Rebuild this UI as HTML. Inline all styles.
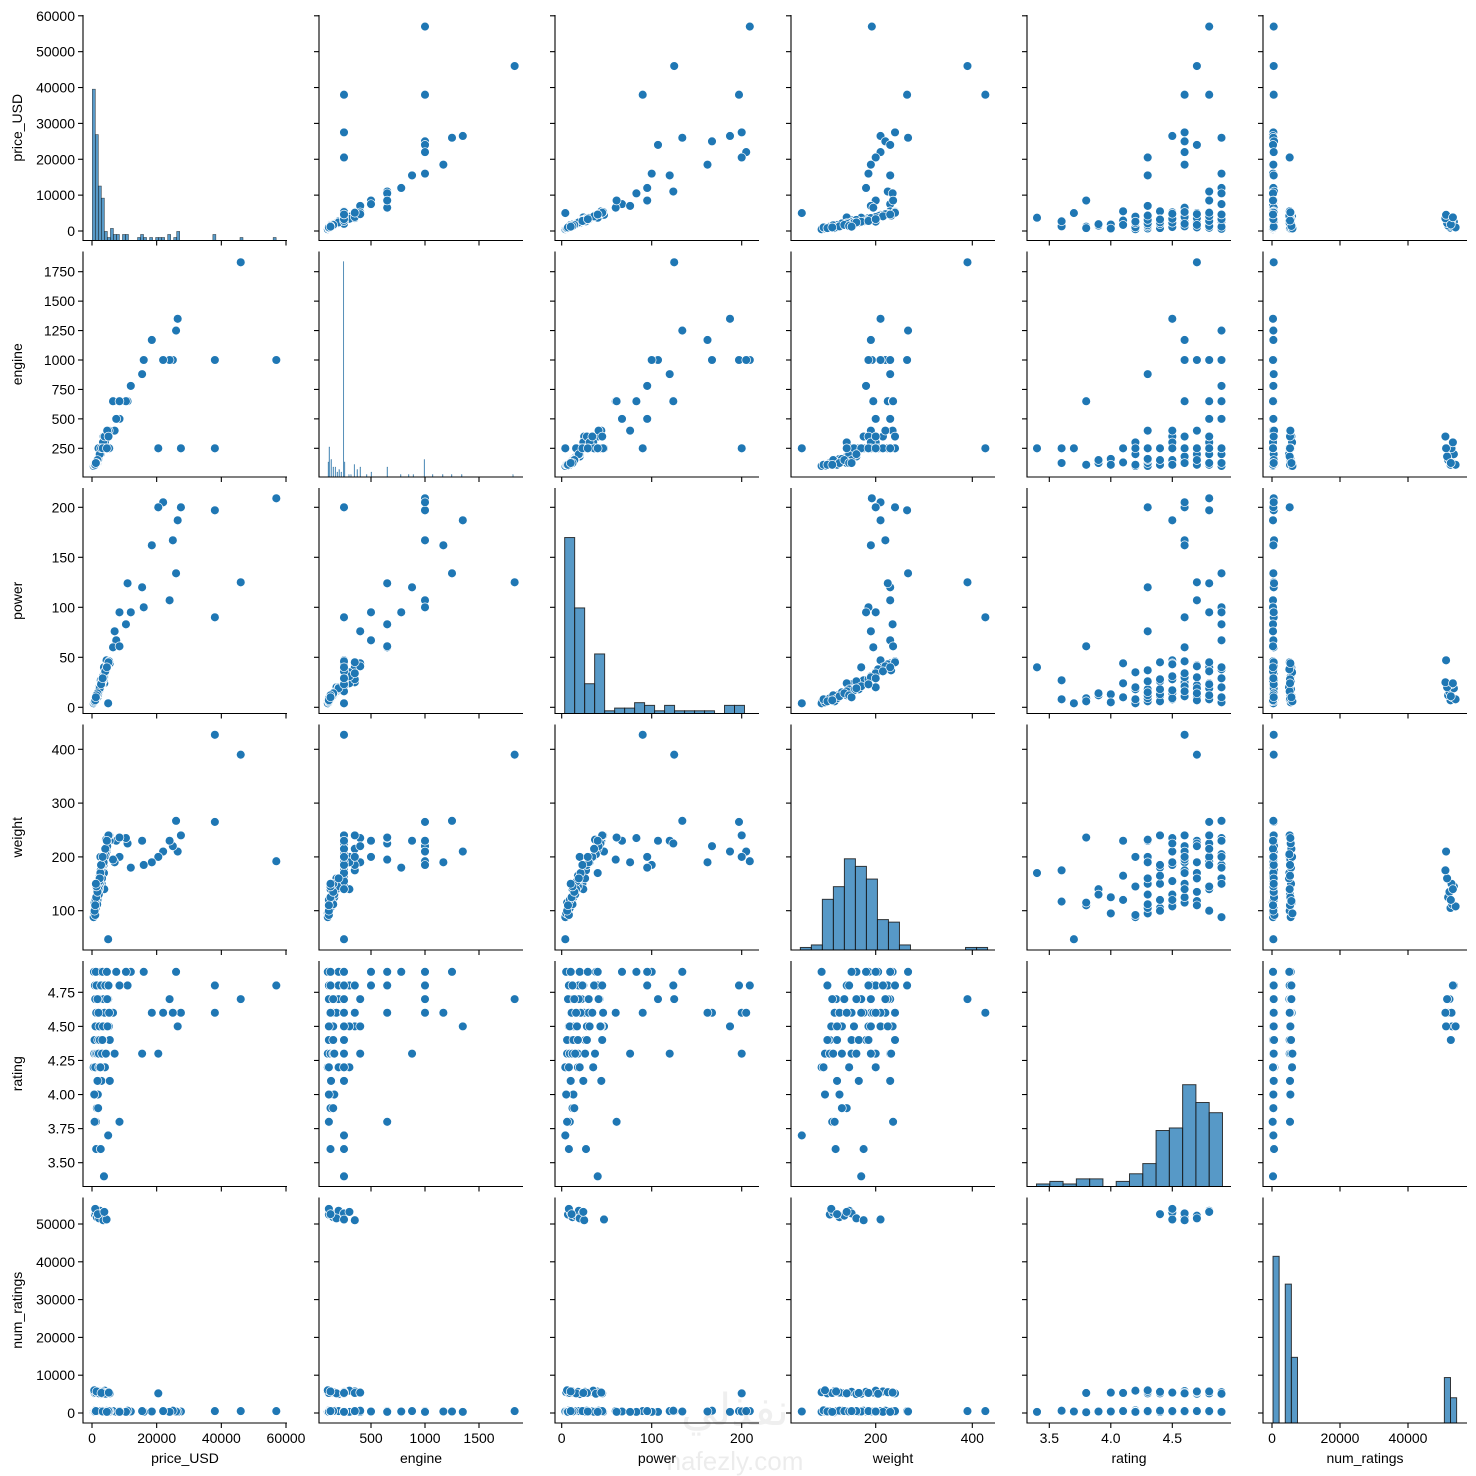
<!DOCTYPE html>
<html><head><meta charset="utf-8"><style>
html,body{margin:0;padding:0;background:#fff;}
svg{display:block;font-family:"Liberation Sans","DejaVu Sans",sans-serif;}
</style></head><body>
<svg id="chart" width="1476" height="1476" viewBox="0 0 1476 1476" xmlns="http://www.w3.org/2000/svg">
<rect width="1476" height="1476" fill="#fff"/>
<g id="plot"></g>
<text x="735" y="1425" font-size="44" fill="#000" opacity="0.06" text-anchor="middle" font-family="DejaVu Sans, sans-serif">نفذلي</text>
<text x="735" y="1470" font-size="26" fill="#000" opacity="0.07" text-anchor="middle">nafezly.com</text>
</svg>
<script>
// ---- data ----
const price = [57000,46000,38000,38000,27500,26500,26000,25000,24000,22000,20500,18500,16000,15500,12000,11000,10500,8500,7500,7000,6500,
 900,1200,1500,2000,2500,3000,1000,2200,3500,1800,4500,3800,
 600,900,1500,2000,2500,3000,3800,4500,5500,1200,4000,2700,1800,3300,5000,700,2200,3600,4200,1400,2900,5200,
 500,700,3700,1300,2700,5000,8500,800,1500,1900,1700,5500,1000,2200,2600, 1200,1600,2100,3100,4300, 800,1900,2400,3200, 1100,2300,3400,4800, 1300,2600,3900,5300,2000, 1000,2400,3600,4700,1700, 1400,2800,4100,5100, 1200,3300,4600];
const engine = [1000,1830,250,1000,250,1350,1250,1000,1000,1000,250,1170,1000,880,780,650,650,500,500,400,650,
 110,125,150,160,200,250,110,180,350,125,250,300,
 100,110,125,150,250,250,250,350,250,110,300,200,160,250,250,100,180,350,250,125,250,400,
 100,110,250,125,250,250,650,110,125,150,130,250,110,200,250, 125,150,160,250,250, 110,150,250,250, 110,250,300,250, 125,250,350,250,250, 110,200,250,400,150, 125,250,250,350, 125,250,250];
const power = [209,125,90,197,200,187,134,167,107,205,200,162,100,120,95,124,83,95,67,76,60,
 7,10,12,15,19,23,8,20,25,11,47,24,
 5,8,11,14,18,22,30,40,45,9,35,20,13,26,42,6,16,28,38,10,24,44,
 4,5,40,8,27,4,61,6,12,14,10,44,8,18,20, 9,12,15,26,37, 6,13,18,28, 9,17,31,43, 11,21,34,46,16, 7,19,30,41,14, 12,23,36,45, 10,29,40];
const weight = [192,390,427,265,240,210,267,220,230,210,200,190,185,230,180,225,235,200,230,190,195,
 105,112,125,135,145,150,108,160,175,120,210,140,
 88,100,115,130,150,170,195,215,240,110,200,160,125,180,225,95,140,185,205,118,165,235,
 88,95,170,117,175,47,236,115,140,130,120,230,92,145,200, 105,112,130,160,232, 100,150,165,185, 120,155,190,225, 125,170,200,240,140, 110,160,190,220,135, 145,185,215,240, 150,200,230];
const rating = [4.8,4.7,4.6,4.8,4.6,4.5,4.9,4.6,4.7,4.6,4.3,4.6,4.9,4.3,4.9,4.8,4.9,4.8,4.9,4.3,4.6,
 4.4,4.5,4.6,4.7,4.8,4.6,4.5,4.7,4.6,4.4,4.5,4.8,
 4.9,4.8,4.6,4.5,4.3,4.7,4.6,4.8,4.4,3.8,4.2,4.9,4.0,4.4,4.7,4.3,4.6,4.5,4.9,4.7,4.1,4.5,
 4.2,4.0,3.4,3.6,3.6,3.7,3.8,3.8,3.9,3.9,4.1,4.1,4.2,4.2,4.2, 4.3,4.3,4.3,4.3,4.3, 4.4,4.4,4.4,4.4, 4.5,4.5,4.5,4.5, 4.6,4.6,4.6,4.6,4.6, 4.7,4.7,4.7,4.7,4.7, 4.8,4.8,4.8,4.8, 4.9,4.9,4.9];
const numRatings = [500,500,500,500,400,300,400,600,300,500,5200,400,300,500,400,600,300,500,400,300,500,
 52500,53000,51800,52200,53500,52800,54000,51500,51000,52600,51200,53200,
 5500,5200,5800,5300,5600,5100,5400,5700,5200,5300,5900,5000,5400,5600,5500,6000,5200,5300,5100,5700,5300,5400,
 300,400,300,500,600,400,300,200,500,400,600,500,700,400,300, 500,400,600,300,500, 400,500,300,600, 500,400,300,500, 600,400,500,300,500, 300,500,400,600,500, 400,500,300,500, 500,400,300];

// histogram data (diagonal)
const priceHistStart = 100, priceHistWidth = 932;
const priceHistCounts = [50,35,18,14,3,1,4,2,2,0, 2,2,0,0,0,1,2,1,0,1, 0,1,1,1,0,2,0,1,3,0, 0,0,0,0,0,0,0,0,0,0, 2,0,0,0,0,0,0,0,0,1, 0,0,0,0,0,0,0,0,0,0, 1];
const engineHistCenters = [105,114,132,151,170,188,206,225,246,256,296,315,346,373,401,460,503,651,775,849,892,994,1071,1164,1247,1340,1815];
const engineHistCounts  = [6,12,7,4,4,2,3,2,86,6,1,1,5,3,4,1,2,4,1,1,1,7,1,1,1,1,1];
const engineHistWidth = 6.5;
const powerHistStart = 3.3, powerHistWidth = 11.1;
const powerHistCounts = [65,39,11,22,1,2,2,4,3,1,3,1,1,1,1,0,3,3];
const weightHistStart = 44, weightHistWidth = 22.8;
const weightHistCounts = [1,2,20,25,36,33,28,12,11,2,0,0,0,0,0,1,1];
const ratingHistStart = 3.396, ratingHistWidth = 0.108;
const ratingHistCounts = [1,2,1,3,3,0,2,5,9,22,23,40,33,29];
const numHistStart = 300, numHistWidth = 1800;
const numHistCounts = [66,0,55,26,0,0,0,0,0,0,0,0,0,0,0,0,0,0,0,0,0,0,0,0,0,0,0,0,18,10];

// tick values
const priceTicks = [0,10000,20000,30000,40000,50000,60000];
const priceXTicks = [0,20000,40000,60000];
const engineTicks = [250,500,750,1000,1250,1500,1750];
const engineXTicks = [500,1000,1500];
const powerTicks = [0,50,100,150,200];
const powerXTicks = [0,100,200];
const weightTicks = [100,200,300,400];
const weightXTicks = [200,400];
const ratingTicks = [3.5,3.75,4.0,4.25,4.5,4.75];
const ratingTickLabels = ["3.50","3.75","4.00","4.25","4.50","4.75"];
const ratingXTicks = [3.5,4.0,4.5];
const ratingXTickLabels = ["3.5","4.0","4.5"];
const numTicks = [0,10000,20000,30000,40000,50000];
const numXTicks = [0,20000,40000];

const NS = "http://www.w3.org/2000/svg";
const plot = document.getElementById('plot');
function mk(tag, attrs, parent){ const e=document.createElementNS(NS,tag); for(const k in attrs) e.setAttribute(k,attrs[k]); (parent||plot).appendChild(e); return e; }

const vars = [price, engine, power, weight, rating, numRatings];
const names = ['price_USD','engine','power','weight','rating','num_ratings'];
const yTickSets = [priceTicks, engineTicks, powerTicks, weightTicks, ratingTicks, numTicks];
const yTickLbls = [null,null,null,null,ratingTickLabels,null];
const xTickSets = [priceXTicks, engineXTicks, powerXTicks, weightXTicks, ratingXTicks, numXTicks];
const xTickLbls = [null,null,null,null,ratingXTickLabels,null];
const xCal = [[0,9,60000,203],[500,52,1500,160],[0,6.7,200,186.7],[200,84.7,400,181.3],[3.5,22.3,4.5,145.3],[0,9,40000,145]];
const yCal = [[0,216,60000,0.8],[250,196.8,1750,20.2],[0,219.3,200,19.3],[100,186.2,400,24.8],[3.5,201.7,4.75,31.3],[0,215.5,50000,26.5]];
const PW = 204, PH = 225.5, LEFT0 = 83, TOP0 = 15, XP = 236, YP = 236.5;
function panelLeft(c){ return LEFT0 + XP*c; }
function panelTop(r){ return TOP0 + YP*r; }
function sx(c, v){ const k=xCal[c]; return panelLeft(c) + k[1] + (v-k[0])*(k[3]-k[1])/(k[2]-k[0]); }
function sy(r, v){ const k=yCal[r]; return panelTop(r) + k[1] + (v-k[0])*(k[3]-k[1])/(k[2]-k[0]); }

const diag = [
  {start:priceHistStart, width:priceHistWidth, counts:priceHistCounts, ymax:74.5, sw:0.5},
  null,
  {start:powerHistStart, width:powerHistWidth, counts:powerHistCounts, ymax:83.3, sw:1},
  {start:weightHistStart, width:weightHistWidth, counts:weightHistCounts, ymax:89, sw:1},
  {start:ratingHistStart, width:ratingHistWidth, counts:ratingHistCounts, ymax:88.6, sw:1},
  {start:numHistStart, width:numHistWidth, counts:numHistCounts, ymax:89.3, sw:1}
];

for(let r=0;r<6;r++){
  for(let c=0;c<6;c++){
    const g = mk('g',{});
    
    
    const L=panelLeft(c), T=panelTop(r), B=T+PH;
    if(r===c){
      if(c===1){
        for(let i=0;i<engineHistCenters.length;i++){
          const x0=sx(c,engineHistCenters[i]-engineHistWidth/2), x1=sx(c,engineHistCenters[i]+engineHistWidth/2);
          const h=engineHistCounts[i]/90*PH;
          const b = mk('rect',{x:x0,y:B-h,width:Math.max(x1-x0,0.6),height:h,fill:'rgba(31,119,180,0.8)',stroke:'#1f5f8f','stroke-width':0.2},g);
          
          
        }
      } else {
        const d=diag[c];
        for(let i=0;i<d.counts.length;i++){
          if(!d.counts[i]) continue;
          const x0=sx(c,d.start+i*d.width), x1=sx(c,d.start+(i+1)*d.width);
          const h=d.counts[i]/d.ymax*PH;
          const b = mk('rect',{x:x0,y:B-h,width:x1-x0,height:h,fill:'rgba(31,119,180,0.75)',stroke:'#1a1a1a','stroke-width':d.sw,'stroke-opacity':0.85},g);
          
          
        }
      }
    } else {
      const xs=vars[c], ys=vars[r];
      for(let i=0;i<xs.length;i++){
        const p = mk('circle',{cx:sx(c,xs[i]),cy:sy(r,ys[i]),r:4.4,fill:'#1f77b4',stroke:'#fff','stroke-width':0.7},g);
        
        
      }
    }
    const sp = mk('path',{d:`M${L},${T} V${B} H${L+PW}`,fill:'none',stroke:'#000','stroke-width':1.1},g);
    
    
    const yt=yTickSets[r];
    for(let i=0;i<yt.length;i++){
      const y=sy(r,yt[i]);
      mk('line',{x1:L-5,x2:L,y1:y,y2:y,stroke:'#000','stroke-width':1.1},g);
      if(c===0){
        const t=mk('text',{x:L-8,y:y+5,'font-size':14,'text-anchor':'end',fill:'#000'},g);
        t.textContent = yTickLbls[r] ? yTickLbls[r][i] : String(yt[i]);
        
        
      }
    }
    const xt=xTickSets[c];
    for(let i=0;i<xt.length;i++){
      const x=sx(c,xt[i]);
      mk('line',{x1:x,x2:x,y1:B,y2:B+5,stroke:'#000','stroke-width':1.1},g);
      if(r===5){
        const t=mk('text',{x:x,y:B+20,'font-size':14,'text-anchor':'middle',fill:'#000'},g);
        t.textContent = xTickLbls[c] ? xTickLbls[c][i] : String(xt[i]);
        
        
      }
    }
  }
}
for(let i=0;i<6;i++){
  const cx = panelLeft(i)+PW/2;
  const xt = mk('text',{x:cx,y:1463,'font-size':14,'text-anchor':'middle',fill:'#000'});
  xt.textContent = names[i];
  
  
  const cy = panelTop(i)+PH/2;
  const yt = mk('text',{x:22,y:cy,'font-size':14,'text-anchor':'middle',fill:'#000',transform:`rotate(-90 22 ${cy})`});
  yt.textContent = names[i];
  
  
}
</script>
</body></html>
